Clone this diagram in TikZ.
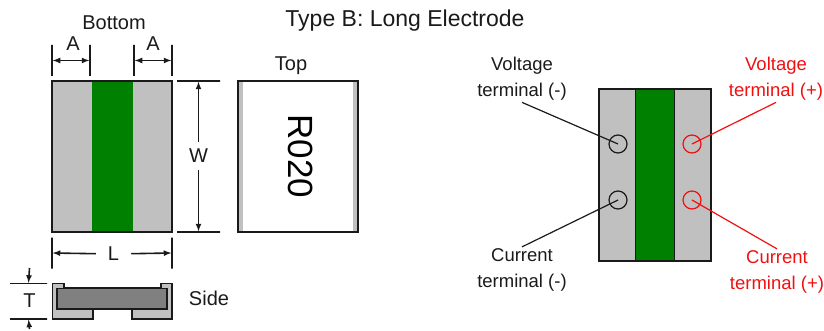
\documentclass[tikz,border=0pt]{standalone}
\usepackage{fontspec}
\setmainfont{Liberation Sans}
\usetikzlibrary{arrows,positioning}
\definecolor{padgray}{HTML}{C0C0C0}
\definecolor{coregray}{HTML}{808080}
\definecolor{bargreen}{HTML}{008000}
\definecolor{inkdark}{HTML}{1A1A1A}
\definecolor{inkred}{HTML}{F01010}

\begin{document}
\begin{tikzpicture}[x = 1pt, y = -1pt, on grid, line width = 1.5pt, draw = inkdark,
	body/.style = {rectangle, draw = inkdark, fill = padgray, inner sep = 0pt},
	bar/.style = {rectangle, fill = bargreen, inner sep = 0pt},
	vbar/.style = {rectangle, draw = inkdark, inner sep = 0pt, minimum width = 0pt, line width = 1.3pt},
	hbar/.style = {rectangle, draw = inkdark, inner sep = 0pt, minimum height = 0pt, line width = 1.3pt},
	dim/.style = {inkdark, line width = 1.6pt},
	lbl/.style = {inner sep = 0pt, text = inkdark, font = \fontsize{20}{23}\selectfont},
	term/.style = {align = center, inner sep = 1pt, text = inkdark, font = \fontsize{18.5}{26}\selectfont},
	termred/.style = {term, text = inkred},
	pin/.style = {circle, draw = inkdark, line width = 1.2pt, minimum size = 18pt, inner sep = 0pt},
	pinred/.style = {pin, draw = inkred}]
	\useasboundingbox (0,0) rectangle (824,331);
	\node[lbl, font = \fontsize{23}{26}\selectfont] (Title) at (405,21) {Type B: Long Electrode};
	% bottom view
	\node[lbl] (Bottom) at (114,23) {Bottom};
	\node[body, minimum width = 120pt, minimum height = 151pt] (BotBody) at (112,156.5) {};
	\node[bar, minimum width = 41pt, minimum height = 149.5pt] (BotBar) at (112.5,156.5) {};
	\node[vbar, minimum height = 31pt] (AL1) at (52,60.5) {};
	\node[vbar, minimum height = 31pt] (AL2) [right = 38pt of AL1] {};
	\node[vbar, minimum height = 31pt] (AR1) [right = 82pt of AL1] {};
	\node[vbar, minimum height = 31pt] (AR2) [right = 38pt of AR1] {};
	\node[lbl] (ALtext) at (73,44) {A};
	\node[lbl] (ARtext) at (153,44) {A};
	\draw[dim, latex-latex] (AL1) -- (AL2);
	\draw[dim, latex-latex] (AR1) -- (AR2);
	\node[hbar, minimum width = 43pt] (WT) at (198.5,81) {};
	\node[hbar, minimum width = 43pt] (WB) [below = 151pt of WT] {};
	\node[lbl, minimum height = 26pt] (Wtext) at (198.5,156) {W};
	\draw[dim, -latex] (Wtext) -- (WT);
	\draw[dim, -latex] (Wtext) -- (WB);
	\node[vbar, minimum height = 31pt] (LL) at (52,253) {};
	\node[vbar, minimum height = 31pt] (LR) [right = 120pt of LL] {};
	\node[lbl, minimum width = 34pt] (Ltext) at (113.5,254) {L};
	\draw[dim, -latex] (Ltext) -- (LL);
	\draw[dim, -latex] (Ltext) -- (LR);
	% side view
	\node[hbar, minimum width = 37pt] (TT) at (28.5,283.5) {};
	\node[hbar, minimum width = 37pt] (TB) [below = 35.5pt of TT] {};
	\coordinate (TTend) at (29.5,268);
	\coordinate (TBend) at (29.5,329);
	\node[lbl] (Ttext) at (29.5,300.5) {T};
	\draw[dim, -latex] (TTend) -- (TT);
	\draw[dim, -latex] (TBend) -- (TB);
	\draw[fill = padgray, draw = inkdark] (52.5,283.5) -- (64,283.5) -- (64,288) -- (161,288) -- (161,283.5) -- (172,283.5) -- (172,319) -- (132,319) -- (132,309) -- (93,309) -- (93,319) -- (52.5,319) -- cycle;
	\node[body, fill = coregray, minimum width = 110pt, minimum height = 20.5pt] (SideCore) at (112,298.5) {};
	\node[lbl] (Side) at (209,298) {Side};
	% top view
	\node[lbl] (Top) at (291,66) {Top};
	\node[body, minimum width = 120pt, minimum height = 151pt] (TopBody) at (298,156.5) {};
	\node[bar, fill = white, minimum width = 110pt, minimum height = 149.5pt] (TopFace) at (298,156.5) {};
	\node[lbl, rotate = -90, text = black, font = \fontsize{35}{40}\selectfont] (Mark) at (301,156.5) {R020};
	% terminals
	\node[body, minimum width = 112pt, minimum height = 172pt] (KelBody) at (655,175) {};
	\node[bar, draw = inkdark, line width = 0.8pt, minimum width = 39pt, minimum height = 171pt] (KelBar) at (655,175) {};
	\node[pin] (VNeg) at (618,144) {};
	\node[pin] (CNeg) [below = 56pt of VNeg] {};
	\node[pinred] (VPos) [right = 74pt of VNeg] {};
	\node[pinred] (CPos) [below = 56pt of VPos] {};
	\node[term] (VNegText) at (522,79) {Voltage\\terminal (-)};
	\node[term] (CNegText) at (522,270) {Current\\terminal (-)};
	\node[termred] (VPosText) at (776,79) {Voltage\\terminal (+)};
	\node[termred] (CPosText) at (777,272) {Current\\terminal (+)};
	\draw[line width = 1.2pt, inkdark] (VNegText.south) -- (VNeg.center);
	\draw[line width = 1.2pt, inkdark] (CNegText.north) -- (CNeg.center);
	\draw[line width = 1.2pt, inkred] (VPosText.south) -- (VPos.center);
	\draw[line width = 1.2pt, inkred] (CPosText.north) -- (CPos.center);
\end{tikzpicture}
\end{document}
